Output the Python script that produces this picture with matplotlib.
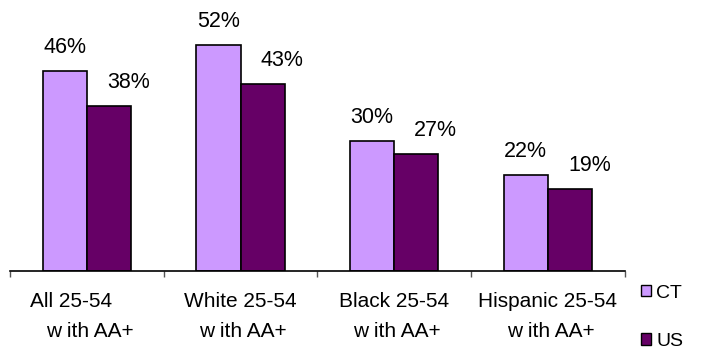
import matplotlib
matplotlib.use("Agg")
import matplotlib.pyplot as plt
from matplotlib.patches import Patch

plt.rcParams['font.family'] = ['Liberation Sans', 'DejaVu Sans']

# --- data --- #
groups_line1 = ['All 25-54', 'White 25-54', 'Black 25-54', 'Hispanic 25-54']
groups_line2 = ['w ith AA+', 'w ith AA+', 'w ith AA+', 'w ith AA+']
ct_values = [46, 52, 30, 22]
us_values = [38, 43, 27, 19]
series_names = ['CT', 'US']

# --- style --- #
ct_color = '#CC99FF'
us_color = '#660066'
bar_w = 0.287
line1_dx = [-11, 0, 0, 0]  # points, first line of "All" sits left in the original

fig = plt.figure(figsize=(7.2, 3.52), dpi=100)
ax = fig.add_axes([10 / 720, (352 - 271.3) / 352, (624.7 - 10) / 720, 271.3 / 352])

x = list(range(len(ct_values)))
ct_x = [i - bar_w / 2 for i in x]
us_x = [i + bar_w / 2 for i in x]
ax.bar(ct_x, ct_values, width=bar_w, color=ct_color, edgecolor='black', linewidth=1.2)
ax.bar(us_x, us_values, width=bar_w, color=us_color, edgecolor='black', linewidth=1.2)

ax.set_xlim(-0.5, len(x) - 0.5)
ax.set_ylim(0, 62.3)

# value labels
for xi, v in zip(ct_x, ct_values):
    ax.annotate(f'{v}%', (xi, v), xytext=(0, 13), textcoords='offset points',
                ha='center', va='baseline', fontsize=15.5)
for xi, v in zip(us_x, us_values):
    ax.annotate(f'{v}%', (xi, v), xytext=(14, 13), textcoords='offset points',
                ha='center', va='baseline', fontsize=15.5)

# axis styling
for s in ['top', 'right', 'left']:
    ax.spines[s].set_visible(False)
ax.spines['bottom'].set_linewidth(1.2)
ax.set_yticks([])
ax.set_xticks([i - 0.5 for i in range(len(x) + 1)])
ax.set_xticklabels([])
ax.tick_params(axis='x', direction='out', length=4.5, width=1, color='#555555')

# two-line category labels
for i, (l1, l2) in enumerate(zip(groups_line1, groups_line2)):
    ax.annotate(l1, (i, 0), xycoords=('data', 'axes fraction'),
                xytext=(line1_dx[i], -26), textcoords='offset points',
                ha='center', va='baseline', fontsize=15)
    ax.annotate(l2, (i, 0), xycoords=('data', 'axes fraction'),
                xytext=(2, -47.5), textcoords='offset points',
                ha='center', va='baseline', fontsize=15)

handles = [Patch(facecolor=ct_color, edgecolor='black'),
           Patch(facecolor=us_color, edgecolor='black')]
fig.legend(handles, series_names, loc='upper left', bbox_to_anchor=(633 / 720, 1 - 277 / 352),
           borderaxespad=0, frameon=False, fontsize=14, handlelength=0.5, handleheight=0.5,
           handletextpad=0.3, labelspacing=1.6)

fig.savefig('out.png', dpi=100)
